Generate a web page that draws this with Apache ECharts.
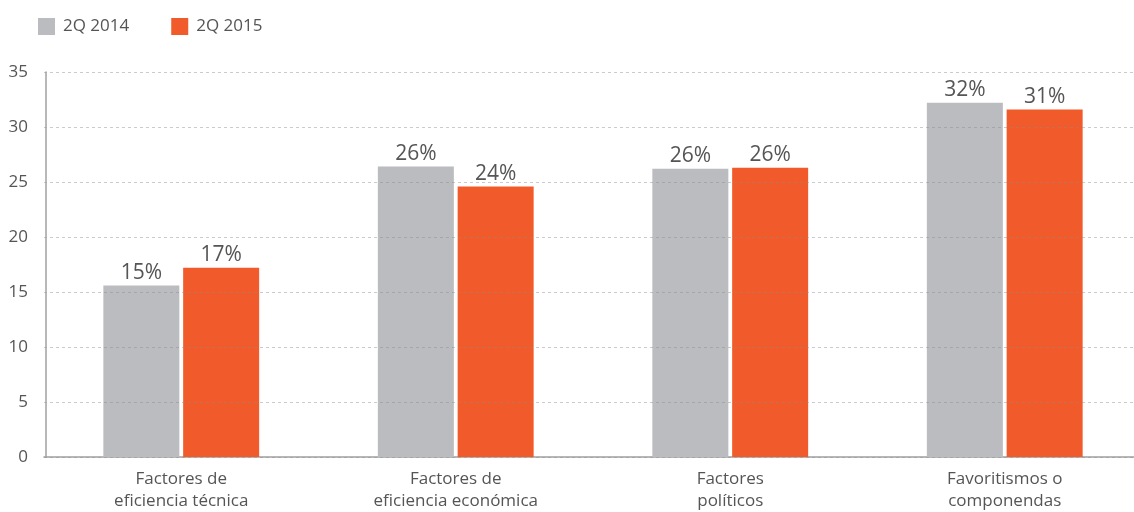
<!DOCTYPE html>
<html>
<head>
<meta charset="utf-8">
<script src="https://cdn.jsdelivr.net/npm/echarts@6/dist/echarts.min.js"></script>
<style>
html,body{margin:0;padding:0;background:#fff;}
#chart{width:1134px;height:512px;}
</style>
</head>
<body>
<div id="chart"></div>
<script>
var categories = ["Factores de\neficiencia técnica", "Factores de\neficiencia económica", "Factores\npolíticos", "Favoritismos o\ncomponendas"];
var seriesNames = ["2Q 2014", "2Q 2015"];
var values2014 = [15.6, 26.4, 26.2, 32.2];
var values2015 = [17.2, 24.6, 26.3, 31.6];
var labels2014 = ["15%", "26%", "26%", "32%"];
var labels2015 = ["17%", "24%", "26%", "31%"];
var yTicks = [0, 5, 10, 15, 20, 25, 30, 35];

var FONT = "Open Sans";
var chart = echarts.init(document.getElementById('chart'));
function makeLabel(arr) {
  return {
    show: true, position: 'top', distance: 2,
    color: '#555', fontSize: 21, fontFamily: FONT,
    formatter: function (p) { return arr[p.dataIndex]; }
  };
}
chart.setOption({
  animation: false,
  textStyle: { fontFamily: FONT },
  legend: {
    left: 33, top: 13, itemWidth: 17, itemHeight: 17, itemGap: 42,
    icon: 'rect',
    textStyle: { color: '#555', fontSize: 17, fontFamily: FONT, padding: [0,0,0,3] },
    data: seriesNames
  },
  grid: { left: 44, top: 72, width: 1098, bottom: 55, containLabel: false, outerBoundsMode: 'none' },
  xAxis: {
    type: 'category', data: categories,
    axisLine: { lineStyle: { color: '#a0a0a0', width: 1.5 } },
    axisTick: { show: false },
    axisLabel: { color: '#555', fontSize: 17, fontFamily: FONT, lineHeight: 22, margin: 11 }
  },
  yAxis: {
    type: 'value', min: yTicks[0], max: yTicks[yTicks.length - 1], interval: 5,
    offset: -2, z: 3,
    axisLine: { show: true, lineStyle: { color: '#a0a0a0', width: 1.5 } },
    axisTick: { show: false },
    axisLabel: { color: '#555', fontSize: 17, fontFamily: FONT, margin: 18 },
    splitLine: { lineStyle: { color: 'rgba(140,140,140,0.45)', type: [3, 3], width: 1 } }
  },
  series: [
    { name: seriesNames[0], type: 'bar', data: values2014, barWidth: 76, barGap: '5%',
      itemStyle: { color: '#BBBCBF' }, label: makeLabel(labels2014) },
    { name: seriesNames[1], type: 'bar', data: values2015, barWidth: 76, barGap: '5%',
      itemStyle: { color: '#F15A2B' }, label: makeLabel(labels2015) }
  ]
});
</script>
</body>
</html>
